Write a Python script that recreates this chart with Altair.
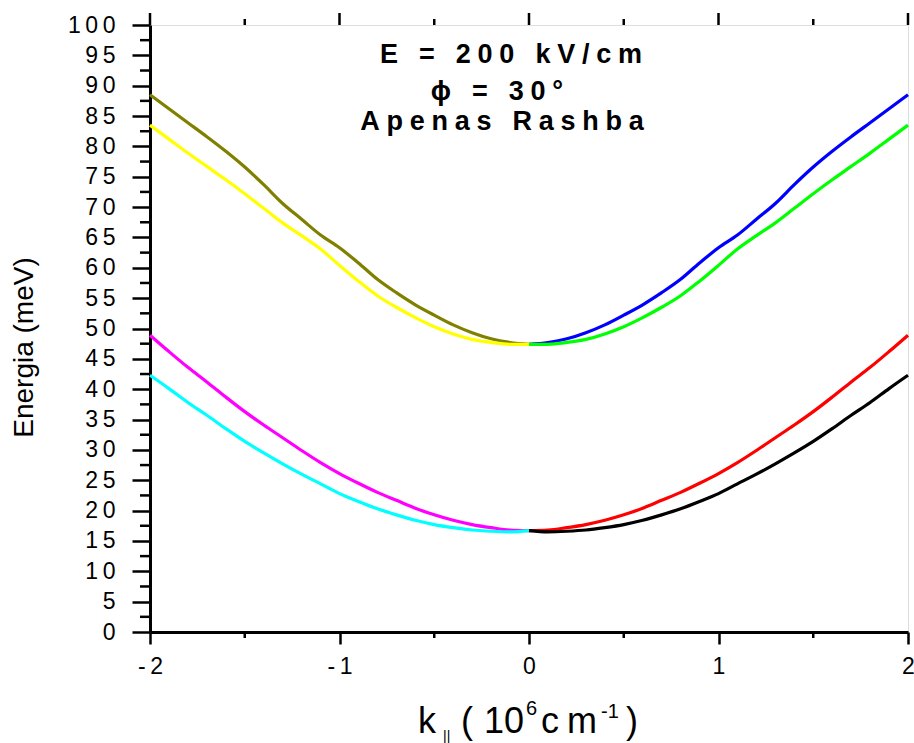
import altair as alt
import pandas as pd

FONT = "Liberation Sans"

# ---- data ----
k_left = [-2.0, -1.9, -1.8, -1.7, -1.6, -1.5, -1.4, -1.3, -1.2, -1.1, -1.0,
          -0.9, -0.8, -0.7, -0.6, -0.5, -0.4, -0.3, -0.2, -0.1, 0.0]
k_right = [0.0, 0.1, 0.2, 0.3, 0.4, 0.5, 0.6, 0.7, 0.8, 0.9, 1.0,
           1.1, 1.2, 1.3, 1.4, 1.5, 1.6, 1.7, 1.8, 1.9, 2.0]

olive = [88.5, 86.2, 83.9, 81.6, 79.2, 76.6, 73.7, 70.6, 68.0, 65.4, 63.3,
         60.8, 58.1, 55.9, 53.9, 52.2, 50.6, 49.3, 48.3, 47.7, 47.4]
yellow = [83.5, 81.2, 78.9, 76.7, 74.5, 72.2, 69.8, 67.4, 65.3, 63.1, 60.4,
          57.8, 55.4, 53.5, 51.8, 50.3, 49.1, 48.2, 47.7, 47.4, 47.4]
magenta = [48.9, 46.2, 43.6, 41.2, 38.7, 36.3, 34.1, 32.0, 29.9, 27.9, 26.1,
           24.5, 23.0, 21.7, 20.4, 19.3, 18.4, 17.7, 17.2, 16.8, 16.7]
cyan = [42.3, 40.1, 37.8, 35.7, 33.5, 31.4, 29.5, 27.7, 26.0, 24.4, 22.8,
        21.5, 20.3, 19.3, 18.4, 17.7, 17.2, 16.8, 16.6, 16.5, 16.7]

blue = [47.4, 47.7, 48.3, 49.3, 50.6, 52.2, 53.9, 55.9, 58.1, 60.8, 63.3,
        65.4, 68.0, 70.6, 73.7, 76.6, 79.2, 81.6, 83.9, 86.2, 88.5]
green = [47.4, 47.4, 47.7, 48.2, 49.1, 50.3, 51.8, 53.5, 55.4, 57.8, 60.4,
         63.1, 65.3, 67.4, 69.8, 72.2, 74.5, 76.7, 78.9, 81.2, 83.5]
red = [16.7, 16.8, 17.2, 17.7, 18.4, 19.3, 20.4, 21.7, 23.0, 24.5, 26.1,
       27.9, 29.9, 32.0, 34.1, 36.3, 38.7, 41.2, 43.6, 46.2, 48.9]
black = [16.7, 16.5, 16.6, 16.8, 17.2, 17.7, 18.4, 19.3, 20.3, 21.5, 22.8,
         24.4, 26.0, 27.7, 29.5, 31.4, 33.5, 35.7, 37.8, 40.1, 42.3]

series_names = ["olive", "yellow", "magenta", "cyan", "blue", "green", "red", "black"]
series_colors = ["#808000", "#FFFF00", "#FF00FF", "#00FFFF", "#0000FF", "#00FF00", "#FF0000", "#000000"]

y_ticks = [0, 5, 10, 15, 20, 25, 30, 35, 40, 45, 50, 55, 60, 65, 70, 75, 80, 85, 90, 95, 100]
y_minor = [2.5, 7.5, 12.5, 17.5, 22.5, 27.5, 32.5, 37.5, 42.5, 47.5, 52.5,
           57.5, 62.5, 67.5, 72.5, 77.5, 82.5, 87.5, 92.5, 97.5]
x_ticks = [-2, -1, 0, 1, 2]
x_minor = [-1.5, -0.5, 0.5, 1.5]

title_lines = ["E = 200 kV/cm", "\u03d5 = 30°", "Apenas Rashba"]
y_title = "Energia (meV)"

# ---- build table ----
rows = []
left = {"olive": olive, "yellow": yellow, "magenta": magenta, "cyan": cyan}
right = {"blue": blue, "green": green, "red": red, "black": black}
for name, vals in left.items():
    for k, e in zip(k_left, vals):
        rows.append({"k": k, "E": e, "s": name})
for name, vals in right.items():
    for k, e in zip(k_right, vals):
        rows.append({"k": k, "E": e, "s": name})
df = pd.DataFrame(rows)

xscale = alt.Scale(domain=[-2, 2], nice=False, zero=False)
yscale = alt.Scale(domain=[0, 100], nice=False)

SP = "\u2009"
label_expr = "join(split('' + datum.value, ''), '" + SP + "')"

xaxis = alt.Axis(
    values=x_ticks, title=None, labelExpr=label_expr, labelFontSize=23,
    labelFont=FONT, labelColor="black", labelPadding=11, tickSize=12,
    tickWidth=2.5, tickColor="black", domainWidth=3, domainColor="black",
    grid=False, labelFlush=False, labelOverlap=False)
yaxis = alt.Axis(
    values=y_ticks, title=y_title, titleFont=FONT, titleFontSize=28,
    titleFontWeight="normal", titleColor="black", titleAngle=270,
    titleX=-118, titleY=322, titleAlign="center", titleBaseline="alphabetic",
    labelExpr=label_expr, labelFontSize=23, labelFont=FONT, labelColor="black",
    labelPadding=17, tickSize=18, tickWidth=2.5, tickColor="black",
    domainWidth=3, domainColor="black", grid=False, labelFlush=False,
    labelOverlap=False)

lines = alt.Chart(df).mark_line(strokeWidth=3.2, interpolate="monotone").encode(
    x=alt.X("k:Q", scale=xscale, axis=xaxis),
    y=alt.Y("E:Q", scale=yscale, axis=yaxis),
    color=alt.Color("s:N", scale=alt.Scale(domain=series_names, range=series_colors), legend=None),
    detail="s:N",
    order="k:Q",
)

ymin_rules = alt.Chart(pd.DataFrame({"E": y_minor})).mark_rule(color="black", strokeWidth=2.5).encode(
    y=alt.Y("E:Q", scale=yscale, axis=yaxis), x=alt.value(-10), x2=alt.value(0))
xmin_rules = alt.Chart(pd.DataFrame({"k": x_minor})).mark_rule(color="black", strokeWidth=2.5).encode(
    x=alt.X("k:Q", scale=xscale, axis=xaxis), y=alt.value(607), y2=alt.value(613))
top_major = alt.Chart(pd.DataFrame({"k": x_ticks})).mark_rule(color="black", strokeWidth=2.5).encode(
    x=alt.X("k:Q", scale=xscale, axis=xaxis), y=alt.value(-12), y2=alt.value(0))
top_minor = alt.Chart(pd.DataFrame({"k": x_minor})).mark_rule(color="black", strokeWidth=2.5).encode(
    x=alt.X("k:Q", scale=xscale, axis=xaxis), y=alt.value(-6), y2=alt.value(0))

one = pd.DataFrame({"a": [0]})


def txt(s, x, y, size, bold=False, align="left"):
    return alt.Chart(one).mark_text(
        text=s, align=align, baseline="alphabetic", fontSize=size, font=FONT,
        fontWeight="bold" if bold else "normal", color="black"
    ).encode(x=alt.value(x), y=alt.value(y))


def spaced(s):
    return "\u2005".join(list(s))


texts = [
    txt(spaced(title_lines[0]), 361, 38, 27, True, "center"),
    txt(spaced(title_lines[1]), 347, 75, 27, True, "center"),
    txt(spaced(title_lines[2]), 352, 105, 27, True, "center"),
    # x-axis title pieces: k|| ( 10^6 cm^-1 )
    txt("k", 268, 708, 36),
    txt("||", 293, 716, 14),
    txt("(", 311, 708, 36),
    txt("1", 334, 708, 36),
    txt("0", 354, 708, 36),
    txt("6", 376, 690, 20),
    txt("c", 391, 708, 36),
    txt("m", 417, 708, 36),
    txt("-1", 451, 693, 20),
    txt(")", 476, 708, 36),
]

chart = alt.layer(lines, ymin_rules, xmin_rules, top_major, top_minor, *texts).properties(
    width=758, height=607,
    autosize=alt.AutoSizeParams(type="none"),
    padding={"left": 150, "top": 25, "right": 6, "bottom": 111},
).configure_view(stroke="black", strokeWidth=3).configure(background="white")

chart.save("out.html", embed_options={"renderer": "svg", "actions": False})
